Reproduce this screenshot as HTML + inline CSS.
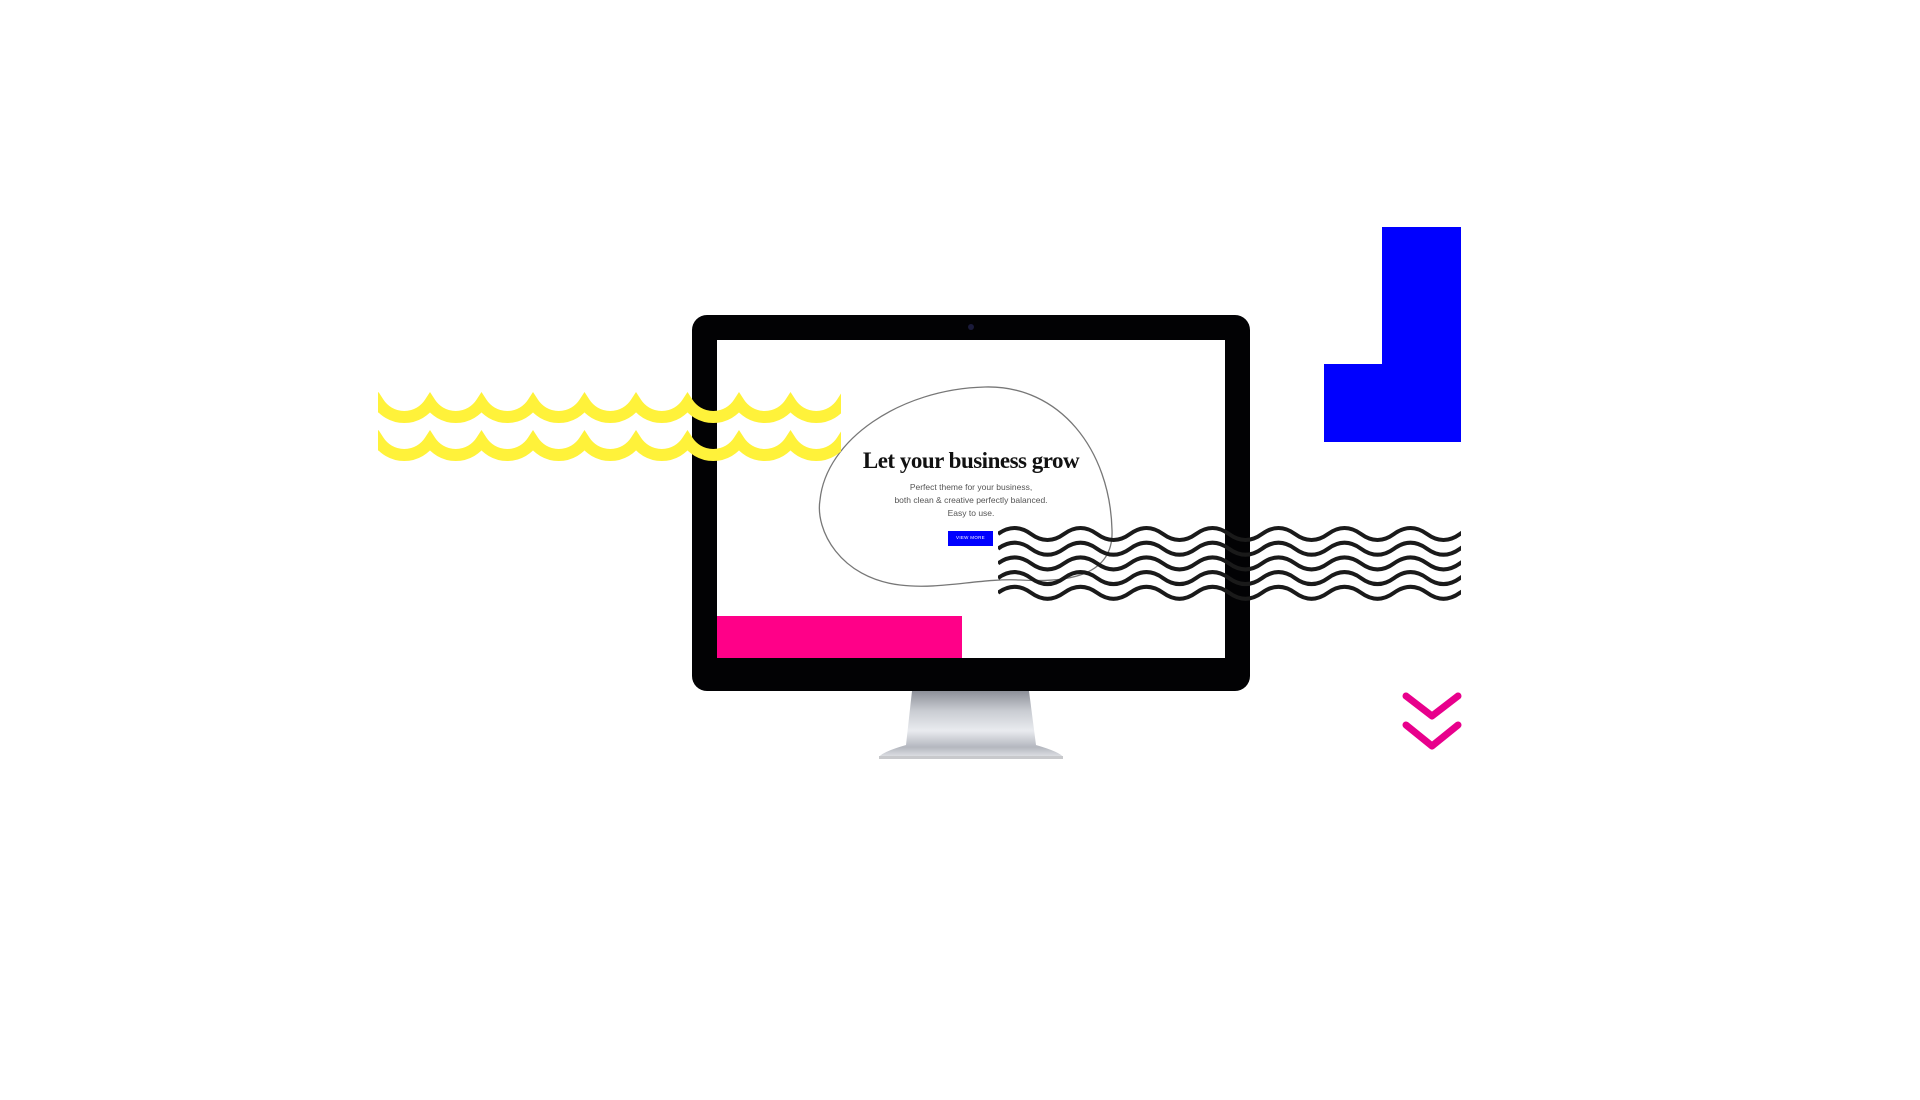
<!DOCTYPE html>
<html><head><meta charset="utf-8"><style>
html,body{margin:0;padding:0;background:#fff;width:1920px;height:1100px;overflow:hidden;position:relative;font-family:"Liberation Sans",sans-serif}
.a{position:absolute}
</style></head><body>
<svg class="a" style="left:0;top:0" width="1920" height="1100">
<defs>
<linearGradient id="st" x1="0" y1="0" x2="0" y2="1">
<stop offset="0" stop-color="#8d9099"/><stop offset="0.3" stop-color="#c9ccd2"/><stop offset="0.6" stop-color="#e9ebef"/><stop offset="0.85" stop-color="#b4b7bf"/><stop offset="1" stop-color="#dfe1e5"/></linearGradient>
</defs>
<path d="M912 691 L1029 691 L1036 745 Q1060 752 1063 757 L879 757 Q882 752 906 745 Z" fill="url(#st)"/>
<rect x="879" y="756" width="184" height="3" fill="#c8c9cc"/>
<rect x="692" y="315" width="558" height="376" rx="15" fill="#020204"/>
<rect x="717" y="340" width="508" height="318" fill="#fff"/>
<circle cx="971" cy="327" r="3" fill="#1a1a3a"/>
<rect x="717" y="616" width="245" height="42" fill="#ff0088"/>
<path d="M985 387 C1060 385 1110 450 1112 530 C1114 575 1070 583 1020 580 C980 578 940 590 900 585 C840 578 815 530 820 500 C826 440 900 389 985 387 Z" fill="none" stroke="#777" stroke-width="1.3"/>
<rect x="948" y="531" width="45" height="15" fill="#0000ff"/>
<g fill="none" stroke="#fff23a" stroke-width="12" clip-path="url(#yc)">
<clipPath id="yc"><rect x="378" y="380" width="463" height="95"/></clipPath>
<path d="M327 403 A30.7 30.7 0 0 0 378.5 403 A30.7 30.7 0 0 0 430 403 A30.7 30.7 0 0 0 481.5 403 A30.7 30.7 0 0 0 533 403 A30.7 30.7 0 0 0 584.5 403 A30.7 30.7 0 0 0 636 403 A30.7 30.7 0 0 0 687.5 403 A30.7 30.7 0 0 0 739 403 A30.7 30.7 0 0 0 790.5 403 A30.7 30.7 0 0 0 842 403 A30.7 30.7 0 0 0 893.5 403"/>
<path d="M327 441 A30.7 30.7 0 0 0 378.5 441 A30.7 30.7 0 0 0 430 441 A30.7 30.7 0 0 0 481.5 441 A30.7 30.7 0 0 0 533 441 A30.7 30.7 0 0 0 584.5 441 A30.7 30.7 0 0 0 636 441 A30.7 30.7 0 0 0 687.5 441 A30.7 30.7 0 0 0 739 441 A30.7 30.7 0 0 0 790.5 441 A30.7 30.7 0 0 0 842 441 A30.7 30.7 0 0 0 893.5 441"/>
</g>
<rect x="1382" y="227" width="79" height="215" fill="#0000ff"/>
<rect x="1324" y="364" width="137" height="78" fill="#0000ff"/>
<g fill="none" stroke="#1a1a1a" stroke-width="4" clip-path="url(#bc)">
<clipPath id="bc"><rect x="998" y="520" width="463" height="90"/></clipPath>
<path id="w" d="M998 534 q16.5 -12 33 0 t33 0 t33 0 t33 0 t33 0 t33 0 t33 0 t33 0 t33 0 t33 0 t33 0 t33 0 t33 0 t33 0 t33 0"/>
<use href="#w" y="14.7"/><use href="#w" y="29.4"/><use href="#w" y="44.1"/><use href="#w" y="58.8"/>
</g>
<g fill="none" stroke="#e8008c" stroke-width="7" stroke-linecap="round" stroke-linejoin="round">
<path d="M1406 696 L1432 716 L1458 696"/>
<path d="M1406 725 L1432 746 L1458 725"/>
</g>
</svg>
<div class="a" style="left:821px;top:448px;width:300px;text-align:center;font-family:'Liberation Serif',serif;font-weight:bold;font-size:23px;color:#111;letter-spacing:-0.5px">Let your business grow</div>
<div class="a" style="left:871px;top:481px;width:200px;text-align:center;font-size:8.5px;line-height:13px;color:#555">Perfect theme for your business,<br>both clean &amp; creative perfectly balanced.<br>Easy to use.</div>
<div class="a" style="left:948px;top:535px;width:45px;text-align:center;font-size:4.5px;color:#fff;letter-spacing:0.3px">VIEW MORE</div>
</body></html>
